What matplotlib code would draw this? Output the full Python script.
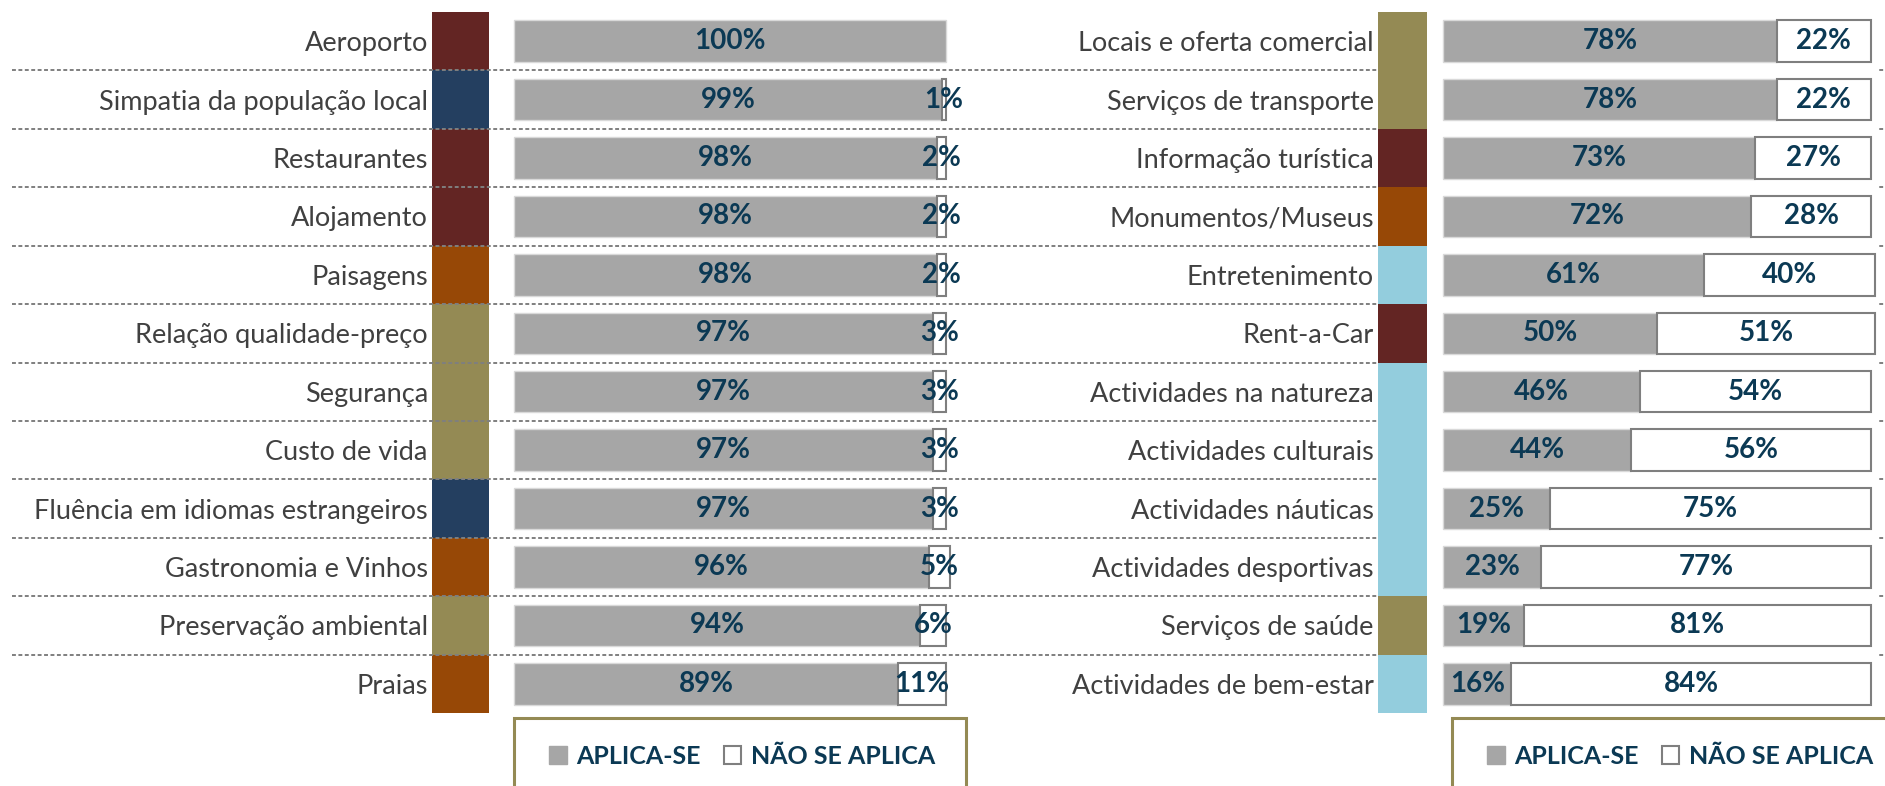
import matplotlib.pyplot as plt
from matplotlib.patches import Patch, Rectangle
from matplotlib.transforms import blended_transform_factory

# category colour groups
RED = "#632523"
NAVY = "#243F60"
BROWN = "#974806"
OLIVE = "#948A54"
SKY = "#93CDDD"

left_labels = [
    "Aeroporto", "Simpatia da população local", "Restaurantes", "Alojamento",
    "Paisagens", "Relação qualidade-preço", "Segurança", "Custo de vida",
    "Fluência em idiomas estrangeiros", "Gastronomia e Vinhos",
    "Preservação ambiental", "Praias",
]
left_applies = [100, 99, 98, 98, 98, 97, 97, 97, 97, 96, 94, 89]
left_not = [0, 1, 2, 2, 2, 3, 3, 3, 3, 5, 6, 11]
left_groups = [RED, NAVY, RED, RED, BROWN, OLIVE, OLIVE, OLIVE, NAVY, BROWN, OLIVE, BROWN]

right_labels = [
    "Locais e oferta comercial", "Serviços de transporte", "Informação turística",
    "Monumentos/Museus", "Entretenimento", "Rent-a-Car", "Actividades na natureza",
    "Actividades culturais", "Actividades náuticas", "Actividades desportivas",
    "Serviços de saúde", "Actividades de bem-estar",
]
right_applies = [78, 78, 73, 72, 61, 50, 46, 44, 25, 23, 19, 16]
right_not = [22, 22, 27, 28, 40, 51, 54, 56, 75, 77, 81, 84]
right_groups = [OLIVE, OLIVE, RED, BROWN, SKY, RED, SKY, SKY, SKY, SKY, OLIVE, SKY]

legend_names = ["APLICA-SE", "NÃO SE APLICA"]

GREY = "#A6A6A6"
EDGE = "#7F7F7F"
NUM = "#0B3954"
TXT = "#404040"
FONT = "Lato"
LABEL_SIZE = 19.5
NUM_SIZE = 20

W, H = 1885, 786
plt.rcParams["font.family"] = [FONT, "DejaVu Sans"]
fig = plt.figure(figsize=(W / 100, H / 100), dpi=100)

top_px, bottom_px = 12, 713


def panel(x0_px, bar0_px, px_per_unit, strip_px, labels, applies, nots, groups):
    xmin = -(bar0_px - x0_px) / px_per_unit
    xmax = 101.5
    width_px = (xmax - xmin) * px_per_unit
    ax = fig.add_axes([x0_px / W, 1 - bottom_px / H, width_px / W,
                       (bottom_px - top_px) / H])
    n = len(labels)
    ys = list(range(n))
    ax.set_xlim(xmin, xmax)
    ax.set_ylim(n - 0.5, -0.5)

    # coloured group strip
    ax.barh(ys, [strip_px / px_per_unit] * n, left=xmin, height=1.0,
            color=groups, linewidth=0)
    ax.barh(ys, applies, height=0.71, color=GREY, edgecolor="#D9D9D9", linewidth=1)

    # white "does not apply" segments, only where there is one
    rest = [(y, a, b) for y, a, b in zip(ys, applies, nots) if b > 0]
    ax.barh([r[0] for r in rest], [r[2] for r in rest], left=[r[1] for r in rest],
            height=0.71, color="white", edgecolor=EDGE, linewidth=1.5)

    for y, a, b in zip(ys, applies, nots):
        ax.text(a / 2, y, f"{a}%", ha="center", va="center", color=NUM,
                fontsize=NUM_SIZE, fontweight="bold")
        if b > 0:
            ax.text(a + b / 2, y, f"{b}%", ha="center", va="center", color=NUM,
                    fontsize=NUM_SIZE, fontweight="bold")

    ax.set_yticks(ys)
    ax.set_yticklabels(labels, fontsize=LABEL_SIZE, color=TXT)
    ax.tick_params(axis="y", length=0, pad=3)
    ax.set_xticks([])
    for s in ax.spines.values():
        s.set_visible(False)
    return ax


ax_l = panel(432, 514, 4.32, 57, left_labels, left_applies, left_not, left_groups)
ax_r = panel(1378, 1443, 4.28, 49, right_labels, right_applies, right_not, right_groups)

# dashed row separators across the full width
tr = blended_transform_factory(fig.transFigure, ax_l.transData)
for k in range(len(left_labels) - 1):
    ax_l.plot([12 / W, 1.0], [k + 0.5, k + 0.5], transform=tr, clip_on=False,
              color=EDGE, lw=1.4, linestyle=(0, (2.0, 1.3)), zorder=5)

# legends in olive frames running off the bottom edge
handles = [Patch(facecolor=GREY, edgecolor=GREY),
           Patch(facecolor="white", edgecolor=EDGE, linewidth=1.5)]
for box_x, box_w, leg_x in [(514, 452, 549), (1452, 460, 1487)]:
    fig.patches.append(Rectangle((box_x / W, -0.05), box_w / W, 0.05 + 1 - 718 / H,
                                 transform=fig.transFigure, fill=False,
                                 edgecolor=OLIVE, linewidth=2.2))
    leg = fig.legend(handles, legend_names, loc="center left",
                     bbox_to_anchor=(leg_x / W, 1 - 756 / H), ncol=2, frameon=False,
                     handlelength=0.7, handleheight=0.7, handletextpad=0.4,
                     columnspacing=0.9, borderpad=0, borderaxespad=0,
                     prop={"family": FONT, "weight": "bold", "size": 18})
    for t in leg.get_texts():
        t.set_color(NUM)

fig.savefig("out.png", dpi=100)
